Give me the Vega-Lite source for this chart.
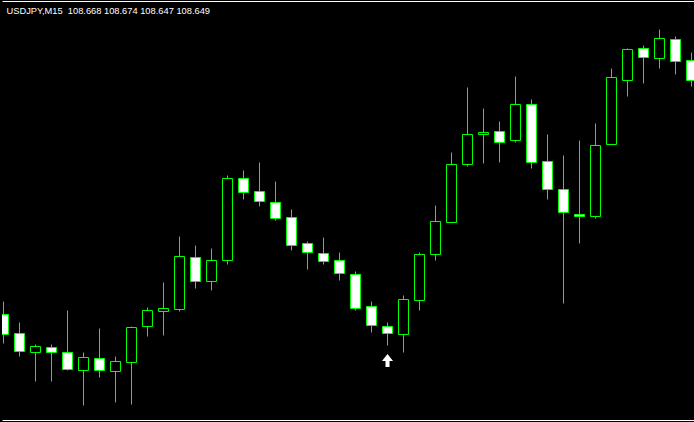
{
  "$schema": "https://vega.github.io/schema/vega-lite/v6.json",
  "autosize": {"type": "none"},
  "width": 692,
  "height": 419,
  "padding": {"left": 2, "top": 1, "right": 0, "bottom": 2},
  "background": "#000000",
  "title": {
    "text": "USDJPY,M15\u00a0 108.668 108.674 108.647 108.649",
    "anchor": "start",
    "frame": "group",
    "orient": "top",
    "offset": -13,
    "dx": 4.5,
    "dy": 9,
    "baseline": "alphabetic",
    "color": "#ffffff",
    "font": "Liberation Sans",
    "fontSize": 9.3,
    "fontWeight": "normal"
  },
  "datasets": {
    "candles": [
      {"i": 0, "open": 108.415, "high": 108.428, "low": 108.386, "close": 108.395},
      {"i": 1, "open": 108.396, "high": 108.407, "low": 108.373, "close": 108.378},
      {"i": 2, "open": 108.377, "high": 108.385, "low": 108.348, "close": 108.383},
      {"i": 3, "open": 108.382, "high": 108.385, "low": 108.348, "close": 108.377},
      {"i": 4, "open": 108.377, "high": 108.419, "low": 108.359, "close": 108.360},
      {"i": 5, "open": 108.359, "high": 108.377, "low": 108.324, "close": 108.372},
      {"i": 6, "open": 108.371, "high": 108.401, "low": 108.352, "close": 108.359},
      {"i": 7, "open": 108.358, "high": 108.373, "low": 108.327, "close": 108.368},
      {"i": 8, "open": 108.367, "high": 108.403, "low": 108.325, "close": 108.402},
      {"i": 9, "open": 108.403, "high": 108.422, "low": 108.393, "close": 108.419},
      {"i": 10, "open": 108.418, "high": 108.447, "low": 108.394, "close": 108.421},
      {"i": 11, "open": 108.420, "high": 108.493, "low": 108.418, "close": 108.473},
      {"i": 12, "open": 108.472, "high": 108.484, "low": 108.441, "close": 108.448},
      {"i": 13, "open": 108.448, "high": 108.481, "low": 108.439, "close": 108.469},
      {"i": 14, "open": 108.469, "high": 108.554, "low": 108.465, "close": 108.551},
      {"i": 15, "open": 108.551, "high": 108.559, "low": 108.530, "close": 108.537},
      {"i": 16, "open": 108.538, "high": 108.567, "low": 108.523, "close": 108.528},
      {"i": 17, "open": 108.527, "high": 108.548, "low": 108.509, "close": 108.511},
      {"i": 18, "open": 108.512, "high": 108.520, "low": 108.479, "close": 108.484},
      {"i": 19, "open": 108.486, "high": 108.488, "low": 108.460, "close": 108.477},
      {"i": 20, "open": 108.476, "high": 108.492, "low": 108.465, "close": 108.468},
      {"i": 21, "open": 108.469, "high": 108.477, "low": 108.449, "close": 108.456},
      {"i": 22, "open": 108.455, "high": 108.458, "low": 108.419, "close": 108.421},
      {"i": 23, "open": 108.423, "high": 108.428, "low": 108.397, "close": 108.404},
      {"i": 24, "open": 108.403, "high": 108.407, "low": 108.384, "close": 108.396},
      {"i": 25, "open": 108.395, "high": 108.434, "low": 108.377, "close": 108.430},
      {"i": 26, "open": 108.429, "high": 108.477, "low": 108.419, "close": 108.475},
      {"i": 27, "open": 108.475, "high": 108.524, "low": 108.469, "close": 108.508},
      {"i": 28, "open": 108.507, "high": 108.577, "low": 108.507, "close": 108.565},
      {"i": 29, "open": 108.565, "high": 108.642, "low": 108.563, "close": 108.595},
      {"i": 30, "open": 108.595, "high": 108.621, "low": 108.566, "close": 108.597},
      {"i": 31, "open": 108.598, "high": 108.608, "low": 108.567, "close": 108.587},
      {"i": 32, "open": 108.589, "high": 108.653, "low": 108.587, "close": 108.625},
      {"i": 33, "open": 108.625, "high": 108.630, "low": 108.561, "close": 108.567},
      {"i": 34, "open": 108.568, "high": 108.595, "low": 108.530, "close": 108.540},
      {"i": 35, "open": 108.540, "high": 108.574, "low": 108.426, "close": 108.517},
      {"i": 36, "open": 108.515, "high": 108.589, "low": 108.486, "close": 108.513},
      {"i": 37, "open": 108.513, "high": 108.606, "low": 108.511, "close": 108.584},
      {"i": 38, "open": 108.585, "high": 108.661, "low": 108.585, "close": 108.652},
      {"i": 39, "open": 108.649, "high": 108.681, "low": 108.633, "close": 108.680},
      {"i": 40, "open": 108.681, "high": 108.684, "low": 108.646, "close": 108.672},
      {"i": 41, "open": 108.671, "high": 108.700, "low": 108.661, "close": 108.691},
      {"i": 42, "open": 108.690, "high": 108.693, "low": 108.655, "close": 108.668},
      {"i": 43, "open": 108.669, "high": 108.677, "low": 108.643, "close": 108.649}
    ],
    "signals": [
      {"i": 24, "price": 108.369, "signal": "buy"}
    ]
  },
  "layer": [
    {
      "data": {"name": "candles"},
      "mark": {"type": "rule", "color": "#00ff00", "strokeWidth": 1, "clip": true},
      "encoding": {
        "x": {"field": "i", "type": "quantitative", "scale": {"domain": [-0.09375, 43.15625], "nice": false, "zero": false, "padding": 0},
              "axis": {"orient": "bottom", "domain": true, "domainColor": "#ffffff", "domainWidth": 1, "ticks": false, "labels": false, "grid": false, "title": null}},
        "y": {"field": "low", "type": "quantitative", "scale": {"domain": [108.3095, 108.7285], "nice": false, "zero": false, "padding": 0},
              "axis": {"orient": "left", "domain": true, "domainColor": "#ffffff", "domainWidth": 1, "ticks": false, "labels": false, "grid": false, "title": null}},
        "y2": {"field": "high"}
      }
    },
    {
      "data": {"name": "candles"},
      "mark": {"type": "bar", "width": 10, "stroke": "#00ff00", "strokeWidth": 1, "clip": true},
      "encoding": {
        "x": {"field": "i", "type": "quantitative",
              "axis": {"orient": "top", "domain": true, "domainColor": "#ffffff", "domainWidth": 1, "ticks": false, "labels": false, "grid": false, "title": null}},
        "y": {"field": "open", "type": "quantitative"},
        "y2": {"field": "close"},
        "fill": {"condition": {"test": "datum.close < datum.open", "value": "#ffffff"}, "value": "#000000"}
      }
    },
    {
      "data": {"name": "signals"},
      "mark": {"type": "point", "shape": "M0,-1 L0.85,0.08 L0.31,0.08 L0.31,1 L-0.31,1 L-0.31,0.08 L-0.85,0.08 Z", "filled": true, "color": "#ffffff", "size": 169, "opacity": 1, "strokeWidth": 0},
      "encoding": {
        "x": {"field": "i", "type": "quantitative", "axis": null},
        "y": {"field": "price", "type": "quantitative", "axis": null}
      }
    }
  ],
  "resolve": {"axis": {"x": "independent"}},
  "config": {
    "view": {"stroke": null, "fill": "#000000"},
    "scale": {"continuousPadding": 0}
  }
}
